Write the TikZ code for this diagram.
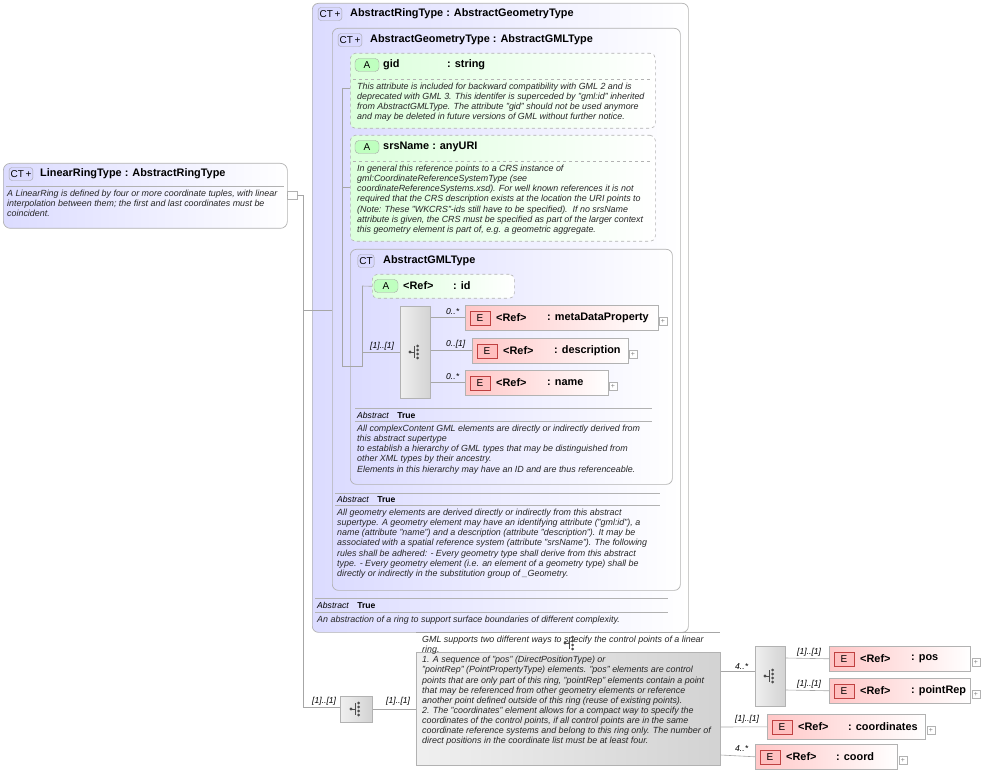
\documentclass[tikz,border=0pt]{standalone}
\usepackage{fontspec}
\setmainfont{Liberation Sans}
\usetikzlibrary{calc}
\begin{document}
\begin{tikzpicture}[x=1pt,y=-1pt,
 ln/.style={draw=gray!70,line width=0.6pt},
 ct/.style={draw=gray!60,rounded corners=6pt,left color=blue!14,right color=white,line width=0.7pt},
 attr/.style={draw=gray!60,dashed,rounded corners=5pt,left color=green!14,right color=white,line width=0.6pt},
 elm/.style={draw=gray!60,left color=red!22,right color=white,line width=0.6pt},
 comp/.style={draw=gray!60,left color=gray!12,right color=gray!35,line width=0.6pt},
 hd/.style={anchor=west,font=\bfseries\fontsize{10.9}{12}\selectfont,inner sep=0,yshift=-1pt},
 ds/.style={anchor=north west,align=left,font=\itshape\fontsize{8.9}{10.1}\selectfont,inner sep=0,text=black!85},
 mul/.style={font=\itshape\fontsize{8.6}{9}\selectfont,inner sep=0},
 bdg/.style={draw=gray!70,rounded corners=3pt,fill=blue!15,font=\fontsize{10}{10}\selectfont,inner sep=1.5pt,minimum height=13},
 abdg/.style={draw=gray!70,rounded corners=4pt,fill=green!25,font=\fontsize{10}{10}\selectfont,minimum width=24,minimum height=13,inner sep=0},
 ebdg/.style={draw=red!50!gray,fill=red!25,font=\fontsize{10}{10}\selectfont,minimum width=20,minimum height=14,inner sep=0},
 plus/.style={draw=gray!60,fill=white,minimum size=8,inner sep=0,font=\fontsize{7}{7}\selectfont,text=gray},
 sep/.style={draw=gray!60,line width=0.5pt}]
\useasboundingbox (0,0) rectangle (985,775);
\newcommand\seqicon[1]{\fill[black!70] ($(#1)+(-5,0)$) circle(1.6);
 \draw[black!70,line width=0.6pt] ($(#1)+(-5,0)$) -- ($(#1)+(-1,0)$) ($(#1)+(-1,-6)$) -- ($(#1)+(-1,6)$);
 \foreach \d in {-6,-2,2,6}{\fill[black!70] ($(#1)+(2.5,\d)$) circle(1.5);}}
% LinearRingType
\node[ct,rounded corners=7pt,minimum width=284,minimum height=65,anchor=north west] (lrt) at (3,163) {};
\node[bdg] (b1) at (21,174) {CT\,+};
\node[hd] (h1) at (40,173) {LinearRingType : AbstractRingType};
\draw[sep] (6,186) -- (284,186);
\node[ds] (d1) at (7,190) {A LinearRing is defined by four or more coordinate tuples, with linear\\interpolation between them; the first and last coordinates must be\\coincident.};
\node[draw=gray!60,fill=white,minimum width=10,minimum height=8,inner sep=0] (lc) at (292,195) {};
% AbstractRingType
\node[ct,minimum width=376,minimum height=629,anchor=north west] (art) at (312,3) {};
\node[bdg] (b2) at (330,14) {CT\,+};
\node[hd] at (350,13) {AbstractRingType : AbstractGeometryType};
% AbstractGeometryType
\node[ct,minimum width=348,minimum height=562,anchor=north west] (agt) at (332,28) {};
\node[bdg] (b3) at (350,40) {CT\,+};
\node[hd] at (370,39) {AbstractGeometryType : AbstractGMLType};
% gid
\node[attr,minimum width=305,minimum height=75,anchor=north west] (gid) at (350,53) {};
\node[abdg] at (367,65) {A};
\node[hd] at (383,64) {gid};
\node[hd] at (447,64) {: string};
\draw[sep,dashed] (353,79) -- (652,79);
\node[ds] at (357,83) {This attribute is included for backward compatibility with GML 2 and is\\deprecated with GML 3. This identifer is superceded by "gml:id" inherited\\from AbstractGMLType. The attribute "gid" should not be used anymore\\and may be deleted in future versions of GML without further notice.};
% srsName
\node[attr,minimum width=305,minimum height=106,anchor=north west] (srs) at (350,135) {};
\node[abdg] at (367,147) {A};
\node[hd] at (383,146) {srsName : anyURI};
\draw[sep,dashed] (353,161) -- (652,161);
\node[ds] at (357,165) {In general this reference points to a CRS instance of\\gml:CoordinateReferenceSystemType (see\\coordinateReferenceSystems.xsd). For well known references it is not\\required that the CRS description exists at the location the URI points to\\(Note: These "WKCRS"-ids still have to be specified).\ \ If no srsName\\attribute is given, the CRS must be specified as part of the larger context\\this geometry element is part of, e.g. a geometric aggregate.};
% AbstractGMLType
\node[ct,minimum width=322,minimum height=235,anchor=north west] (gml) at (350,249) {};
\node[bdg] at (366,261) {CT};
\node[hd] at (383,260) {AbstractGMLType};
\node[attr,minimum width=142,minimum height=24,anchor=north west] (id) at (372,274) {};
\node[abdg] at (386,286) {A};
\node[hd] at (403,285) {<Ref>};
\node[hd] at (453,285) {: id};
\node[comp,minimum width=30,minimum height=92,anchor=north west] (seq1) at (400,306) {};
\seqicon{415,352}
\foreach \n/\x/\y/\w/\t/\m/\mx in {md/465/305/193/metaDataProperty/0..*/446, de/472/338/156/description/0..[1]/446, nm/465/370/143/name/0..*/446}{
 \node[elm,minimum width=\w,minimum height=25,anchor=north west] (\n) at (\x,\y) {};
 \node[ebdg] at (\x+15,\y+13) {E};
 \node[hd] at (\x+31,\y+12) {<Ref>};
 \node[hd] at (\x+82,\y+12) {: \t};
 \node[plus] at (\x+\w+5,\y+16) {+};
 \node[mul,anchor=south west] at (\mx,\y+10) {\m};
}
\draw[ln] (seq1.east|-md.west) -- (md.west);
\draw[ln] (seq1.east|-de.west) -- (de.west);
\draw[ln] (seq1.east|-nm.west) -- (nm.west);
\draw[ln] (362,286) -- (id.west);
\draw[ln] (362,286) -- (362,366) -- (342,366);
\draw[ln] (362,352) -- (seq1.west|-0,352);
\node[mul,anchor=south west] at (370,350) {[1]..[1]};
\draw[sep] (355,408) -- (652,408);
\node[font=\itshape\fontsize{8.6}{9}\selectfont,anchor=west,inner sep=0] at (357,415) {Abstract\quad\upshape\bfseries True};
\draw[sep] (355,421) -- (652,421);
\node[ds] at (357,425) {All complexContent GML elements are directly or indirectly derived from\\this abstract supertype\\to establish a hierarchy of GML types that may be distinguished from\\other XML types by their ancestry.\\Elements in this hierarchy may have an ID and are thus referenceable.};
\draw[ln] (342,88) -- (gid.west|-0,88);
\draw[ln] (342,187) -- (srs.west|-0,187);
\draw[ln] (342,88) -- (342,366);
% geometry abstract
\draw[sep] (335,493) -- (660,493);
\node[font=\itshape\fontsize{8.6}{9}\selectfont,anchor=west,inner sep=0] at (337,499) {Abstract\quad\upshape\bfseries True};
\draw[sep] (335,505) -- (660,505);
\node[ds] at (337,509) {All geometry elements are derived directly or indirectly from this abstract\\supertype. A geometry element may have an identifying attribute ("gml:id"), a\\name (attribute "name") and a description (attribute "description"). It may be\\associated with a spatial reference system (attribute "srsName"). The following\\rules shall be adhered: - Every geometry type shall derive from this abstract\\type. - Every geometry element (i.e. an element of a geometry type) shall be\\directly or indirectly in the substitution group of \_Geometry.};
% ring abstract
\draw[sep] (315,598) -- (668,598);
\node[font=\itshape\fontsize{8.6}{9}\selectfont,anchor=west,inner sep=0] at (317,605) {Abstract\quad\upshape\bfseries True};
\draw[sep] (315,612) -- (668,612);
\node[ds] at (317,616) {An abstraction of a ring to support surface boundaries of different complexity.};
% main connectors
\draw[ln] (lrt.east|-lc.west) -- (lc.west);
\draw[ln] (lc.east) -- (303,195) -- (303,707);
\draw[ln] (303,310) -- (agt.west|-0,310);
% bottom sequence
\node[comp,minimum width=32,minimum height=26,anchor=north west] (seq2) at (340,696) {};
\seqicon{356,709}
\draw[ln] (303,707) -- (seq2.west|-0,707);
\node[mul,anchor=south west] at (312,705) {[1]..[1]};
\node[comp,minimum width=304,minimum height=113,anchor=north west] (ch) at (416,652) {};
\draw[ln] (416,632) -- (720,632);
\draw[ln] (seq2.east) -- (ch.west|-seq2.east);
\node[mul,anchor=south west] at (386,705) {[1]..[1]};
\node[ds] at (422,636) {GML supports two different ways to specify the control points of a linear\\ring.\\1. A sequence of "pos" (DirectPositionType) or\\"pointRep" (PointPropertyType) elements. "pos" elements are control\\points that are only part of this ring, "pointRep" elements contain a point\\that may be referenced from other geometry elements or reference\\another point defined outside of this ring (reuse of existing points).\\2. The "coordinates" element allows for a compact way to specify the\\coordinates of the control points, if all control points are in the same\\coordinate reference systems and belong to this ring only. The number of\\direct positions in the coordinate list must be at least four.};
\seqicon{570,643}
\node[comp,minimum width=30,minimum height=60,anchor=north west] (seq3) at (755,646) {};
\seqicon{770,676}
\foreach \n/\x/\y/\w/\t/\tx in {pos/829/646/141/pos/911, pr/829/678/141/pointRep/911, co/767/714/158/coordinates/848, cd/755/744/142/coord/836}{
 \node[elm,minimum width=\w,minimum height=25,anchor=north west] (\n) at (\x,\y) {};
 \node[ebdg] at (\x+15,\y+13) {E};
 \node[hd] at (\x+31,\y+12) {<Ref>};
 \node[hd] at (\tx,\y+12) {: \t};
 \node[plus] at (\x+\w+6,\y+16) {+};
}
\draw[ln] (ch.east|-0,671) -- (seq3.west|-0,671);
\node[mul,anchor=south west] at (735,670) {4..*};
\draw[ln] (ch.east|-0,727) -- (co.west);
\node[mul,anchor=south west] at (735,723) {[1]..[1]};
\draw[ln] (ch.east|-0,755) -- (cd.west);
\node[mul,anchor=south west] at (735,752) {4..*};
\draw[ln] (seq3.east|-0,658) -- (pos.west);
\node[mul,anchor=south west] at (797,656) {[1]..[1]};
\draw[ln] (seq3.east|-0,690) -- (pr.west);
\node[mul,anchor=south west] at (797,688) {[1]..[1]};
\end{tikzpicture}
\end{document}
